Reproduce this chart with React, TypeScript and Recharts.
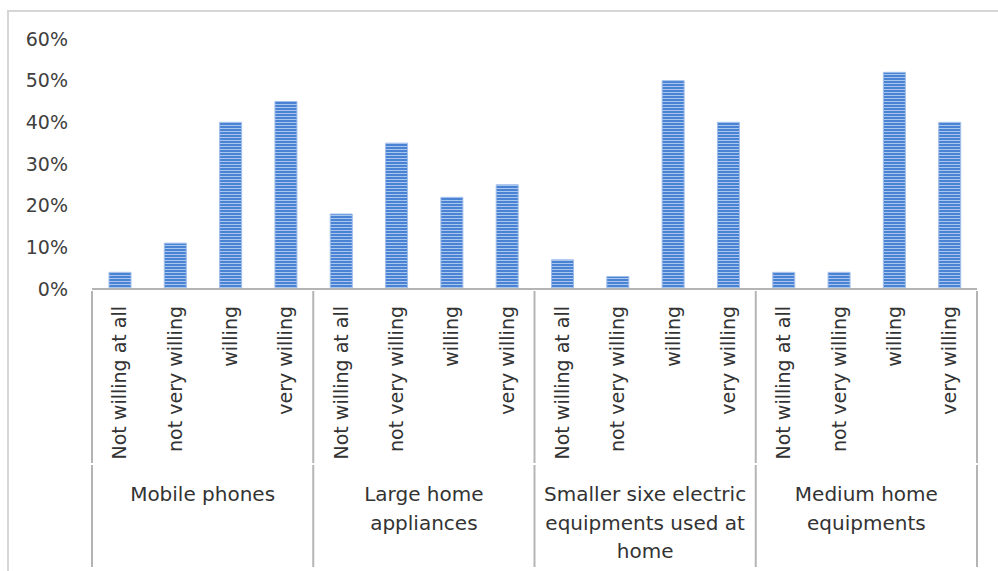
import React from 'react';
import { BarChart, Bar, XAxis, YAxis } from 'recharts';

const levels = ['Not willing at all', 'not very willing', 'willing', 'very willing'];
const groups = [
  'Mobile phones',
  'Large home appliances',
  'Smaller sixe electric equipments used at home',
  'Medium home equipments',
];
// wrapped the way the reference wraps them
const groupLines = [
  ['Mobile phones'],
  ['Large home', 'appliances'],
  ['Smaller sixe electric', 'equipments used at', 'home'],
  ['Medium home', 'equipments'],
];
const mobilePhones = [0.04, 0.11, 0.4, 0.45];
const largeAppliances = [0.18, 0.35, 0.22, 0.25];
const smallerEquipments = [0.07, 0.03, 0.5, 0.4];
const mediumEquipments = [0.04, 0.04, 0.52, 0.4];
const yTicks = [0, 0.1, 0.2, 0.3, 0.4, 0.5, 0.6];

const values = [mobilePhones, largeAppliances, smallerEquipments, mediumEquipments];
const data = groups.flatMap((g, gi) =>
  levels.map((lv, li) => ({ key: `${g}|${lv}`, level: lv, group: g, value: values[gi][li] })),
);

const FONT = '"DejaVu Sans", sans-serif';
const LEVEL_H = 173;
const GROUP_H = 103;
const LINE = '#b4b4b4';

const LevelTick = (props: any) => {
  const { x, y, payload } = props;
  const label = String(payload.value).split('|')[1];
  const ty = y + 15;
  return (
    <text
      x={x}
      y={ty}
      dy="0.36em"
      transform={`rotate(-90, ${x}, ${ty})`}
      textAnchor="end"
      fill="#333"
      fontSize={19}
      fontFamily={FONT}
    >
      {label}
    </text>
  );
};

const GroupTick = (props: any) => {
  const { x, y, payload, index } = props;
  const half = payload.offset ?? 110.6;
  const lines = groupLines[groups.indexOf(payload.value)] || [payload.value];
  const top = y - LEVEL_H;
  const bottom = y + GROUP_H;
  const seps = [x - half];
  if (index === groups.length - 1) seps.push(x + half);
  return (
    <g>
      {seps.map((sx) => (
        <g key={sx}>
          <line x1={sx} x2={sx} y1={top} y2={y - 1} stroke={LINE} strokeWidth={2} />
          <line x1={sx} x2={sx} y1={y + 1} y2={bottom} stroke={LINE} strokeWidth={2} />
        </g>
      ))}
      {lines.map((ln, i) => (
        <text
          key={i}
          x={x}
          y={y + 30 + i * 28.5}
          dy="0.36em"
          textAnchor="middle"
          fill="#333"
          fontSize={20}
          fontFamily={FONT}
        >
          {ln}
        </text>
      ))}
    </g>
  );
};

export default function App() {
  return (
    <div style={{ position: 'absolute', left: 0, top: 0, width: 998, height: 571, background: '#fff', overflow: 'hidden' }}>
      <div
        style={{
          position: 'absolute',
          left: 7,
          top: 10,
          width: 1000,
          height: 600,
          borderTop: '2px solid #d6d6d6',
          borderLeft: '2px solid #d6d6d6',
        }}
      />
      <BarChart
        width={998}
        height={571}
        data={data}
        margin={{ top: 39, right: 21, bottom: 6, left: 0 }}
        style={{ position: 'absolute', left: 0, top: 0 }}
      >
        <defs>
          <pattern id="hstripe" width="6" height="3" patternUnits="userSpaceOnUse">
            <rect width="6" height="3" fill="#4a82d4" />
            <rect y="2" width="6" height="1" fill="#a9c6ef" />
          </pattern>
        </defs>
        <XAxis
          xAxisId="b"
          dataKey="group"
          allowDuplicatedCategory={false}
          height={GROUP_H}
          interval={0}
          tickLine={false}
          tickSize={0}
          axisLine={false}
          tick={<GroupTick />}
        />
        <XAxis
          xAxisId="a"
          dataKey="key"
          height={LEVEL_H}
          interval={0}
          tickLine={false}
          tickSize={0}
          axisLine={{ stroke: LINE, strokeWidth: 2 }}
          tick={<LevelTick />}
        />
        <YAxis
          width={92}
          domain={[0, 0.6]}
          ticks={yTicks}
          interval={0}
          axisLine={false}
          tickLine={false}
          tickSize={0}
          tickMargin={24}
          tickFormatter={(v: number) => `${Math.round(v * 100)}%`}
          tick={{ fill: '#404040', fontSize: 19, fontFamily: FONT }}
        />
        <Bar
          xAxisId="a"
          dataKey="value"
          barSize={22}
          fill="url(#hstripe)"
          stroke="#9fbde9"
          strokeWidth={1}
          isAnimationActive={false}
        />
      </BarChart>
    </div>
  );
}
